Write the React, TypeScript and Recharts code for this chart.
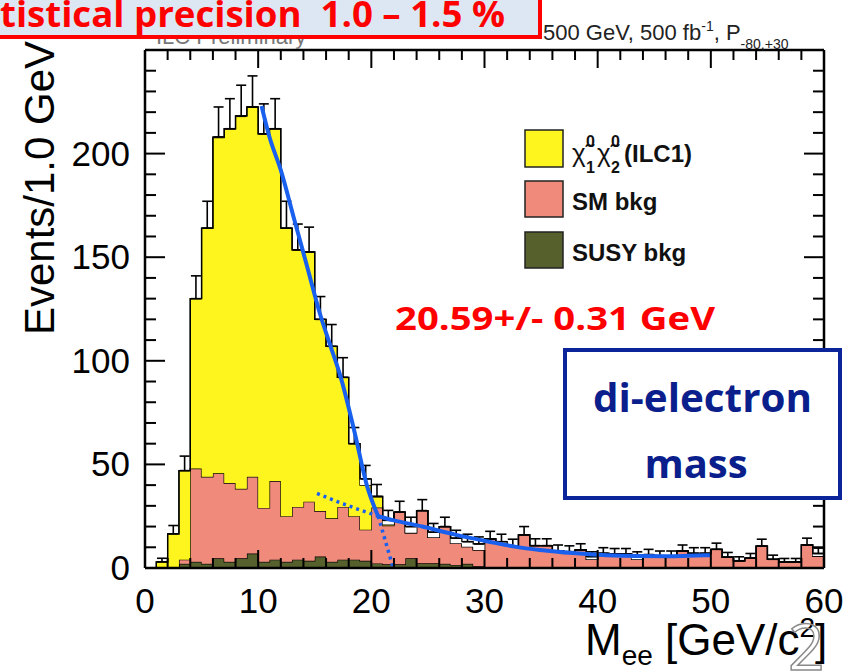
import React from 'react';
import { ComposedChart, Area, Line, Scatter, ErrorBar, XAxis, YAxis } from 'recharts';

// ---- data (1 GeV bins, low edges) ----
const binLow = [0,1,2,3,4,5,6,7,8,9,10,11,12,13,14,15,16,17,18,19,20,21,22,23,24,25,26,27,28,29,30,31,32,33,34,35,36,37,38,39,40,41,42,43,44,45,46,47,48,49,50,51,52,53,54,55,56,57,58,59];
const susyBkg = [0,0,0.5,2,3,2,4.7,3,4.7,7,3,4,3,4,3.5,5.5,3,4,4,3.5,2.2,1.8,1.8,4.7,2.3,2.3,2,1.5,2,0.8,0.5,0.5,0.4,0.4,0.4,0.4,0.3,0.3,0.3,0.3,0.3,0.2,0.2,0.2,0.2,0.2,0.2,0.2,0.2,0.2,0.2,0.2,0.2,0.2,0.2,0.2,0.2,0.2,0.2,0.2];
const smBkg = [0,0,0,2,45,42,41,38,33.5,37,26,38,22,25.5,28.5,22,21,25.5,21,15,27,18.7,25.2,12.3,25.4,12.5,18,10.5,8.3,7.9,13.5,11.5,10.1,15.6,10.4,10.4,7.9,7.6,8.4,3.9,6.8,6.6,6.6,4,6.3,5.6,5.6,8,6.9,6.9,8.8,5,3.3,4.6,10.4,4,2.7,2.7,10.9,5.6];
const signal = [0,3,16,43,82,120,162,171,180,178.5,180.5,170,139,124,120.5,92.5,83,62.5,35,21.5,5.3,0.5,0,0,0,0,0,0,0,0,0,0,0,0,0,0,0,0,0,0,0,0,0,0,0,0,0,0,0,0,0,0,0,0,0,0,0,0,0,0];
const totalOutline = [0,3,16.5,47,130,164,208,212,218,222.5,209.5,212,164,153.5,152.5,120,107,92,60,43,34.5,23,27,20,27.7,17.3,20,14.4,12.7,11.6,14,12.7,10.6,16,10.8,10.8,8.2,7.9,8.7,5.5,7.1,6.8,6.8,5.5,6.5,5.8,5.8,8.2,7.1,7.1,9,5.2,3.5,4.8,10.6,4.2,2.9,2.9,11.1,7];
const errUp = [0,1.7,4,7,11,13,14.5,14.5,15,15,14.5,14.5,13,12.5,12,11,10.5,9.5,7.8,6.5,5.8,4.8,5.2,4.5,5.3,4.2,4.5,3.8,3.6,3.4,3.7,3.6,3.3,4,3.3,3.3,2.9,2.8,3,2.3,2.7,2.6,2.6,2.3,2.5,2.4,2.4,2.9,2.7,2.7,3,2.3,1.9,2.2,3.3,2,1.7,1.7,3.3,2.6];

// fit curves
const fitSteepX = [10.3, 11, 12, 13.2, 14.3, 15.5, 16.4, 17.3, 18.5, 19.6, 20.6];
const fitSteepY = [223, 208, 192, 168, 146, 122, 107, 92, 66, 40, 25];
const fitSteepExtX = [20.6, 21.3, 21.9];
const fitSteepExtY = [25, 12, 0.5];
const fitTailX = [20.6, 22, 24.5, 27.5, 30.4, 32.8, 34.9, 37.8, 40.8, 43.5, 46.1, 48, 50];
const fitTailY = [25, 23, 20, 16, 12.7, 10.2, 8.7, 7.2, 6.2, 5.8, 5.7, 5.9, 6.2];
const fitTailExtX = [15.2, 17, 19, 20.6];
const fitTailExtY = [36, 32, 28, 25];

const xTicks = [0,2,4,6,8,10,12,14,16,18,20,22,24,26,28,30,32,34,36,38,40,42,44,46,48,50,52,54,56,58,60];
const yTicks = [0,10,20,30,40,50,60,70,80,90,100,110,120,130,140,150,160,170,180,190,200,210,220,230,240,250];
const xLabels = [0,10,20,30,40,50,60];
const yLabels = [0,50,100,150,200];

const YELLOW = '#fff51e';
const SALMON = '#f08a7a';
const OLIVE = '#56602c';
const BLUE = '#1a60ee';
const FONT = '"Liberation Sans", Arial, Helvetica, sans-serif';
const CAL = '"Open Sans", "Noto Sans", sans-serif';

const rows = binLow.map((x, i) => {
  const stack = susyBkg[i] + smBkg[i] + signal[i];
  return { x, susy: susyBkg[i], sm: smBkg[i], sig: signal[i], gap: Math.max(0, +(totalOutline[i] - stack).toFixed(2)) };
});
rows.push({ ...rows[rows.length - 1], x: 60 });

const errRows = binLow
  .map((x, i) => ({ x: x + 0.5, y: totalOutline[i], err: [0, errUp[i]] }))
  .filter((r) => r.y > 0);

const mk = (xs: number[], ys: number[]) => xs.map((x, i) => ({ x, y: ys[i] }));

const XTickBottom = (p: any) => {
  const v = p.payload.value;
  const major = xLabels.includes(v);
  return (
    <g>
      <line x1={p.x} y1={p.y} x2={p.x} y2={p.y - (major ? 18 : 10)} stroke="#000" strokeWidth={2} />
      {major && (
        <text x={p.x} y={p.y + 45} textAnchor="middle" fontSize={35} fontFamily={FONT} fill="#000">{v}</text>
      )}
    </g>
  );
};
const XTickTop = (p: any) => {
  const v = p.payload.value;
  const major = xLabels.includes(v);
  return <line x1={p.x} y1={p.y} x2={p.x} y2={p.y + (major ? 18 : 10)} stroke="#000" strokeWidth={2} />;
};
const YTickLeft = (p: any) => {
  const v = p.payload.value;
  const major = v % 50 === 0;
  return (
    <g>
      <line x1={p.x} y1={p.y} x2={p.x + (major ? 20 : 11)} y2={p.y} stroke="#000" strokeWidth={2} />
      {yLabels.includes(v) && (
        <text x={p.x - 15} y={p.y + 12} textAnchor="end" fontSize={35} fontFamily={FONT} fill="#000">{v}</text>
      )}
    </g>
  );
};
const YTickRight = (p: any) => {
  const v = p.payload.value;
  const major = v % 50 === 0;
  return <line x1={p.x} y1={p.y} x2={p.x - (major ? 20 : 11)} y2={p.y} stroke="#000" strokeWidth={2} />;
};

export default function App() {
  const common = { xAxisId: 'b', yAxisId: 'l', isAnimationActive: false } as any;
  return (
    <div style={{ position: 'absolute', left: 0, top: 0, width: 860, height: 672, background: '#fff', overflow: 'hidden' }}>
      <ComposedChart width={860} height={672} data={rows} margin={{ top: 49, right: 35, bottom: 103, left: 144 }}>
        <XAxis xAxisId="b" dataKey="x" type="number" domain={[0, 60]} ticks={xTicks} interval={0} height={1}
          tickSize={0} tickMargin={0} tickLine={false} tick={XTickBottom} axisLine={{ stroke: '#000', strokeWidth: 2.5 }} allowDataOverflow />
        <XAxis xAxisId="t" orientation="top" dataKey="x" type="number" domain={[0, 60]} ticks={xTicks} interval={0} height={1}
          tickSize={0} tickMargin={0} tickLine={false} tick={XTickTop} axisLine={{ stroke: '#000', strokeWidth: 2.5 }} allowDataOverflow />
        <YAxis yAxisId="l" type="number" domain={[0, 250]} ticks={yTicks} interval={0} width={1}
          tickSize={0} tickMargin={0} tickLine={false} tick={YTickLeft} axisLine={{ stroke: '#000', strokeWidth: 2.5 }} allowDataOverflow />
        <YAxis yAxisId="r" orientation="right" type="number" domain={[0, 250]} ticks={yTicks} interval={0} width={1}
          tickSize={0} tickMargin={0} tickLine={false} tick={YTickRight} axisLine={{ stroke: '#000', strokeWidth: 2.5 }} allowDataOverflow />

        <Area {...common} type="stepAfter" dataKey="susy" stackId="h" fill={OLIVE} fillOpacity={1} stroke="#000" strokeWidth={1.3} dot={false} activeDot={false} />
        <Area {...common} type="stepAfter" dataKey="sm" stackId="h" fill={SALMON} fillOpacity={1} stroke="#000" strokeWidth={1.3} dot={false} activeDot={false} />
        <Area {...common} type="stepAfter" dataKey="sig" stackId="h" fill={YELLOW} fillOpacity={1} stroke="#000" strokeWidth={1.3} dot={false} activeDot={false} />
        <Area {...common} type="stepAfter" dataKey="gap" stackId="h" fill="#fff" fillOpacity={1} stroke="#000" strokeWidth={1.3} dot={false} activeDot={false} />

        <Scatter {...common} data={errRows} dataKey="y" shape={() => <g />}>
          <ErrorBar dataKey="err" direction="y" width={5} stroke="#000" strokeWidth={1.6} />
        </Scatter>

        <Line {...common} data={mk(fitSteepX, fitSteepY)} dataKey="y" type="monotone" stroke={BLUE} strokeWidth={4} dot={false} activeDot={false} />
        <Line {...common} data={mk(fitTailX, fitTailY)} dataKey="y" type="monotone" stroke={BLUE} strokeWidth={4} dot={false} activeDot={false} />
        <Line {...common} data={mk(fitSteepExtX, fitSteepExtY)} dataKey="y" type="linear" stroke={BLUE} strokeWidth={3.5} strokeDasharray="3 4" dot={false} activeDot={false} />
        <Line {...common} data={mk(fitTailExtX, fitTailExtY)} dataKey="y" type="linear" stroke={BLUE} strokeWidth={3.5} strokeDasharray="3 4" dot={false} activeDot={false} />
      </ComposedChart>

      <svg width={860} height={672} style={{ position: 'absolute', left: 0, top: 0, pointerEvents: 'none' }}>
        {/* top annotations */}
        <text x={156} y={44} fontSize={22} fontFamily={FONT} fill="#777">ILC Preliminary</text>
        <rect x={-6} y={-10} width={546} height={47} fill="#dde7f3" stroke="#ff0000" strokeWidth={4} />
        <text x={0} y={27} fontSize={36} fontWeight="bold" fontFamily={CAL} fill="#ff0000" textLength={505} lengthAdjust="spacingAndGlyphs" style={{ whiteSpace: 'pre' }}>tistical precision  1.0 – 1.5 %</text>
        <text x={543} y={40} fontSize={22} fontFamily={FONT} fill="#222">500 GeV, 500 fb<tspan fontSize={14} dy={-9}>-1</tspan><tspan dy={9}>, P</tspan><tspan fontSize={14} dy={9}>-80,+30</tspan></text>

        {/* legend */}
        <rect x={525} y={130} width={38} height={37} fill={YELLOW} stroke="#222" strokeWidth={1.5} />
        <rect x={525} y={181} width={38} height={36} fill={SALMON} stroke="#222" strokeWidth={1.5} />
        <rect x={525} y={232} width={38} height={36} fill={OLIVE} stroke="#222" strokeWidth={1.5} />
        <text x={572} y={162} fontSize={26} fontFamily={FONT} fill="#111">χ̃</text>
        <text x={586} y={147} fontSize={16} fontWeight="bold" fontFamily={FONT} fill="#111">0</text>
        <text x={586} y={173} fontSize={16} fontWeight="bold" fontFamily={FONT} fill="#111">1</text>
        <text x={597} y={162} fontSize={26} fontFamily={FONT} fill="#111">χ̃</text>
        <text x={611} y={147} fontSize={16} fontWeight="bold" fontFamily={FONT} fill="#111">0</text>
        <text x={611} y={173} fontSize={16} fontWeight="bold" fontFamily={FONT} fill="#111">2</text>
        <text x={624} y={162} fontSize={24} fontWeight="bold" fontFamily={FONT} fill="#111">(ILC1)</text>
        <text x={572} y={210} fontSize={24} fontWeight="bold" fontFamily={FONT} fill="#111">SM bkg</text>
        <text x={572} y={261} fontSize={24} fontWeight="bold" fontFamily={FONT} fill="#111">SUSY bkg</text>

        {/* fit result */}
        <text x={395} y={330} fontSize={32} fontWeight="bold" fontFamily={CAL} fill="#ff0000" textLength={320} lengthAdjust="spacingAndGlyphs">20.59+/- 0.31 GeV</text>

        {/* blue box */}
        <rect x={565} y={350} width={275} height={148} fill="#fff" stroke="#0b2499" strokeWidth={4} />
        <text x={593} y={412} fontSize={40} fontWeight="bold" fontFamily={CAL} fill="#0a1e8c" textLength={219} lengthAdjust="spacingAndGlyphs">di-electron</text>
        <text x={696} y={478} textAnchor="middle" fontSize={40} fontWeight="bold" fontFamily={CAL} fill="#0a1e8c">mass</text>

        {/* axis titles */}
        <text transform="translate(54,188) rotate(-90)" textAnchor="middle" fontSize={42} fontFamily={FONT} fill="#000">Events/1.0 GeV</text>
        <text x={585} y={655} fontSize={44} fontFamily={FONT} fill="#000">M<tspan fontSize={28} dy={10}>ee</tspan><tspan dy={-10}> [GeV/c</tspan><tspan fontSize={28} dy={-18}>2</tspan><tspan dy={18}>]</tspan></text>
        <text x={788} y={670} fontSize={64} fontFamily={CAL} fill="none" stroke="#8a8a8a" strokeWidth={1.5}>2</text>
      </svg>
    </div>
  );
}
